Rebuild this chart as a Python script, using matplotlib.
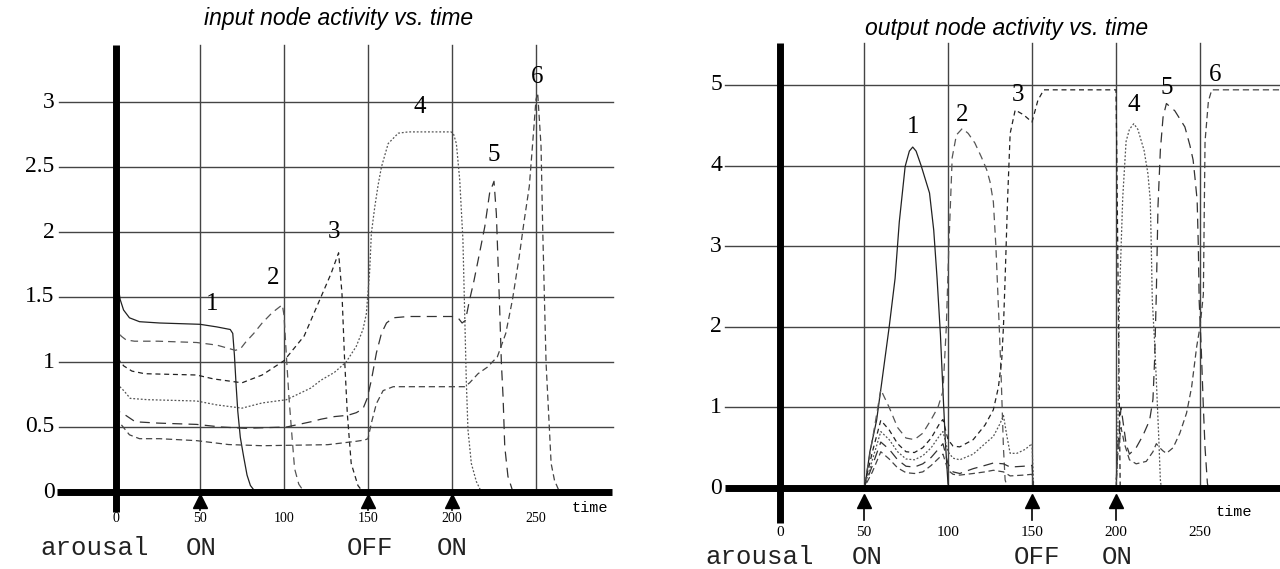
import matplotlib
matplotlib.use('Agg')
import matplotlib.pyplot as plt

# ---- data: input node activity (left panel) ----
in1_t = [0, 1, 2.5, 4.5, 8, 14, 26, 50, 60, 68, 69.5, 70.5, 71.5, 72.5, 74, 76, 78, 80, 83]
in1_v = [1.73, 1.6, 1.48, 1.4, 1.34, 1.31, 1.30, 1.29, 1.27, 1.25, 1.22, 1.05, 0.82, 0.62, 0.42, 0.27, 0.13, 0.05, 0.0]

in2_t = [0, 1, 3, 6, 11, 25, 48, 60, 71, 74, 77, 82, 87, 93, 99, 100, 101.5, 103, 104.5, 106.3, 108.8, 112]
in2_v = [1.3, 1.25, 1.2, 1.17, 1.16, 1.16, 1.15, 1.13, 1.09, 1.1, 1.15, 1.22, 1.30, 1.38, 1.44, 1.36, 1.03, 0.72, 0.47, 0.18, 0.06, 0.0]

in3_t = [0, 1.5, 4.6, 9.5, 17, 48, 58, 75, 87, 100, 112, 122, 128, 132.5, 134.5, 136, 137.7, 140, 144, 147]
in3_v = [1.1, 1.02, 0.97, 0.93, 0.91, 0.90, 0.87, 0.84, 0.9, 1.01, 1.2, 1.5, 1.68, 1.84, 1.53, 1.04, 0.6, 0.22, 0.05, 0.0]

in4_t = [0, 1.5, 4.6, 8.5, 19, 48, 60, 75, 87, 101.5, 116, 122, 130, 137, 143, 147, 149, 151, 152, 154, 156, 158,
         162, 168, 174, 199.5, 201, 202.6, 204.6, 206.5, 207.5, 208.5, 209.5, 211.5, 214.5, 217.5]
in4_v = [0.89, 0.82, 0.78, 0.72, 0.71, 0.70, 0.67, 0.645, 0.685, 0.71, 0.80, 0.86, 0.92, 1.0, 1.12, 1.25, 1.37, 1.7,
         1.99, 2.19, 2.36, 2.50, 2.68, 2.76, 2.77, 2.77, 2.75, 2.68, 2.4, 1.94, 1.4, 0.86, 0.48, 0.22, 0.08, 0.0]

in5_t = [0, 1.5, 4.6, 11.5, 25, 48, 62.5, 77, 101.5, 116, 122, 130, 138, 143, 147, 149.5, 152, 155, 158, 161, 165,
         174, 200, 203.6, 206, 208, 210.5, 213, 215.5, 219.5, 222.4, 225, 226.4, 228.4, 229.4, 230.4, 231.4, 233.3, 236.3]
in5_v = [0.68, 0.62, 0.6, 0.54, 0.53, 0.52, 0.50, 0.49, 0.50, 0.54, 0.56, 0.58, 0.59, 0.61, 0.64, 0.72, 0.86, 1.07,
         1.22, 1.30, 1.34, 1.35, 1.35, 1.34, 1.3, 1.32, 1.48, 1.62, 1.78, 2.04, 2.30, 2.39, 2.14, 1.4, 0.99, 0.73,
         0.35, 0.12, 0.0]

in6_t = [0, 1, 3, 8, 14, 26, 48, 67, 87, 126, 143, 148, 150, 152, 155, 159, 165, 200, 207.5, 210.5, 215.5, 221,
         227, 232, 236, 240, 243, 246, 248, 250, 251, 253, 254, 255, 256, 258, 259, 261, 264]
in6_v = [0.58, 0.55, 0.52, 0.44, 0.41, 0.41, 0.395, 0.365, 0.356, 0.364, 0.39, 0.40, 0.41, 0.53, 0.68, 0.78, 0.81,
         0.81, 0.81, 0.84, 0.91, 0.96, 1.04, 1.22, 1.48, 1.81, 2.09, 2.35, 2.68, 3.02, 3.07, 2.66, 2.02, 1.5, 0.99,
         0.48, 0.22, 0.09, 0.0]

# ---- data: output node activity (right panel) ----
out1_t = [0, 50, 51, 53.5, 57.5, 60.5, 65, 68.5, 71, 74.5, 77, 79, 81, 84, 89, 91.5, 93.5, 95.5, 97, 98.5, 100, 101, 298]
out1_v = [0, 0, 0.08, 0.45, 0.84, 1.3, 2.0, 2.6, 3.3, 3.99, 4.18, 4.23, 4.18, 4.0, 3.66, 3.2, 2.6, 1.9, 1.2, 0.55, 0.05, 0, 0]

out2_t = [0, 50, 55, 60, 65, 70, 75, 80, 85, 90, 94, 97, 99, 100.5, 102.5, 105, 108.5, 112, 116, 120, 123, 125, 127,
          128.5, 129.5, 130.5, 131.7, 133, 134, 135.5, 298]
out2_v = [0, 0, 0.6, 1.22, 1.0, 0.75, 0.62, 0.6, 0.68, 0.85, 1.0, 1.2, 2.0, 3.0, 4.1, 4.38, 4.46, 4.4, 4.28, 4.1, 3.95,
          3.8, 3.55, 3.0, 2.5, 2.0, 1.34, 0.5, 0.1, 0, 0]

out3_t = [0, 50, 55, 60, 65, 70, 75, 80, 85, 90, 95, 97, 100, 103, 107, 115, 122, 127, 130, 132, 133, 134, 135.5, 137,
          140, 145, 150, 153.5, 157, 200, 200.5, 201.5, 202.5, 298]
out3_v = [0, 0, 0.45, 0.84, 0.72, 0.55, 0.45, 0.44, 0.5, 0.62, 0.8, 0.85, 0.6, 0.52, 0.51, 0.6, 0.78, 0.97, 1.25, 1.6,
          2.0, 2.6, 3.6, 4.4, 4.69, 4.63, 4.54, 4.81, 4.94, 4.94, 4.1, 2.0, 0, 0]

out4_t = [0, 50, 55, 60, 65, 70, 75, 80, 85, 90, 95, 97, 100, 103, 107, 115, 122, 127, 131, 133, 135, 137, 141, 146,
          150, 151, 200, 201, 202, 204, 206, 208, 210.6, 213, 216.7, 219, 220.4, 221, 221.6, 223, 224, 225.5, 226.4,
          227, 298]
out4_v = [0, 0, 0.35, 0.70, 0.6, 0.45, 0.36, 0.35, 0.4, 0.5, 0.65, 0.7, 0.45, 0.37, 0.35, 0.42, 0.55, 0.64, 0.8, 0.9,
          0.65, 0.43, 0.43, 0.48, 0.55, 0, 0, 0.5, 2.33, 3.6, 4.3, 4.45, 4.52, 4.45, 4.19, 3.9, 3.57, 3.0, 2.33, 1.8,
          1.34, 0.6, 0.1, 0, 0]

out5_t = [0, 50, 55, 60, 65, 70, 75, 80, 85, 90, 95, 97, 100, 103, 107, 115, 122, 127, 133, 137, 145, 150, 151, 200,
          201, 203, 206, 208, 212, 216, 220, 222, 223, 224, 225, 226.4, 228, 230, 235, 241, 244, 245.9, 247, 248.3,
          249, 249.5, 250.7, 252, 253, 254.4, 255, 298]
out5_v = [0, 0, 0.28, 0.57, 0.48, 0.35, 0.27, 0.26, 0.3, 0.38, 0.5, 0.55, 0.3, 0.2, 0.18, 0.24, 0.28, 0.31, 0.3, 0.26,
          0.27, 0.28, 0, 0, 0.5, 1.0, 0.55, 0.42, 0.5, 0.65, 0.84, 1.1, 1.6, 2.41, 3.5, 4.19, 4.6, 4.77, 4.68, 4.48,
          4.25, 4.07, 3.85, 3.57, 3.0, 2.33, 1.75, 1.0, 0.5, 0.06, 0, 0]

out6_t = [0, 50, 55, 60, 65, 70, 75, 80, 85, 90, 95, 97, 100, 103, 107, 115, 122, 127, 133, 137, 145, 150, 151, 200,
          201, 203, 205, 208, 212, 218, 222, 224, 226, 228, 230, 234, 238, 242, 245, 248, 250, 252, 253, 255, 257, 298]
out6_v = [0, 0, 0.2, 0.45, 0.36, 0.25, 0.19, 0.18, 0.2, 0.28, 0.38, 0.42, 0.22, 0.17, 0.16, 0.18, 0.2, 0.22, 0.2,
          0.15, 0.16, 0.17, 0, 0, 0.4, 0.75, 0.55, 0.35, 0.3, 0.33, 0.45, 0.55, 0.5, 0.46, 0.43, 0.5, 0.68, 0.93, 1.25,
          1.75, 2.0, 2.4, 4.3, 4.8, 4.94, 4.94]

in_curves = [(in1_t, in1_v), (in2_t, in2_v), (in3_t, in3_v), (in4_t, in4_v), (in5_t, in5_v), (in6_t, in6_v)]
out_curves = [(out1_t, out1_v), (out2_t, out2_v), (out3_t, out3_v), (out4_t, out4_v), (out5_t, out5_v), (out6_t, out6_v)]

# curve number labels (time, value)
in_label_pos = [(57, 1.45), (93.5, 1.65), (130, 2.0), (181, 2.96), (224.6, 2.59), (250.4, 3.19)]
out_label_pos = [(79, 4.48), (108.6, 4.63), (141.4, 4.88), (210.7, 4.75), (230, 4.96), (259.2, 5.12)]

time_ticks = [0, 50, 100, 150, 200, 250]
grid_x = [50, 100, 150, 200, 250]
in_yticks = [0, 0.5, 1, 1.5, 2, 2.5, 3]
in_yticklabels = ['0', '0.5', '1', '1.5', '2', '2.5', '3']
out_yticks = [0, 1, 2, 3, 4, 5]
out_yticklabels = ['0', '1', '2', '3', '4', '5']
arousal_t = [50, 150, 200]
arousal_txt = ['ON', 'OFF', 'ON']

styles = [
    dict(color='#222222', ls='-'),
    dict(color='#555555', ls=(0, (6, 4))),
    dict(color='#222222', ls=(0, (4, 3))),
    dict(color='#555555', ls=(0, (1.5, 1.5))),
    dict(color='#333333', ls=(0, (8, 5))),
    dict(color='#444444', ls=(0, (5, 3))),
]

serif = 'Liberation Serif'
mono = 'Liberation Mono'

fig = plt.figure(figsize=(12.8, 5.69), dpi=100)

# left: x px 60..620 ; y px 40..515
axL = fig.add_axes([60 / 1280, (569 - 515) / 569, 560 / 1280, 475 / 569])
axL.set_xlim((60 - 116) / 1.68, (620 - 116) / 1.68)
axL.set_ylim((492 - 515) / 130, (492 - 40) / 130)
# right: x px 725..1280 ; y px 40..525
axR = fig.add_axes([725 / 1280, (569 - 525) / 569, 555 / 1280, 485 / 569])
axR.set_xlim((725 - 780) / 1.68, (1280 - 780) / 1.68)
axR.set_ylim((488 - 525) / 80.6, (488 - 40) / 80.6)

panels = [
    dict(ax=axL, curves=in_curves, labels=in_label_pos, yt=in_yticks, ytl=in_yticklabels,
         ytop=3.44, ybot=-0.15, xl=-35, xr=295, gl=-34, gr=296, tick_y=-0.2, ylab_x=-36.5,
         time_pos=(282, -0.12), arousal_y=-0.43, arousal_x=-45, txt_x=[51, 151, 200],
         head_y=-0.07, stem_y=-0.14, ytick_fs=17, xtick_fs=10),
    dict(ax=axR, curves=out_curves, labels=out_label_pos, yt=out_yticks, ytl=out_yticklabels,
         ytop=5.52, ybot=-0.43, xl=-32.7, xr=298, gl=-32.7, gr=298, tick_y=-0.55, ylab_x=-34.5,
         time_pos=(270, -0.3), arousal_y=-0.86, arousal_x=-44.6, txt_x=[52, 153, 200.6],
         head_y=-0.16, stem_y=-0.4, ytick_fs=17, xtick_fs=11),
]

for p in panels:
    ax = p['ax']
    ax.axis('off')
    # grid
    for yv in p['yt'][1:]:
        ax.plot([p['gl'], p['gr']], [yv, yv], color='#444444', lw=1.0, clip_on=False, zorder=1)
    for xv in grid_x:
        ax.plot([xv, xv], [0, p['ytop']], color='#444444', lw=1.0, clip_on=False, zorder=1)
    # curves
    for (t, v), st in zip(p['curves'], styles):
        ax.plot(t, v, color=st['color'], linestyle=st['ls'], lw=0.9, clip_on=False, zorder=2)
    # thick axes
    ax.plot([0, 0], [p['ybot'], p['ytop']], color='black', lw=5, solid_capstyle='butt', clip_on=False, zorder=3)
    ax.plot([p['xl'], p['xr']], [0, 0], color='black', lw=5, solid_capstyle='butt', clip_on=False, zorder=3)
    # y tick labels
    for yv, lab in zip(p['yt'], p['ytl']):
        ax.text(p['ylab_x'], yv, lab, ha='right', va='center', fontsize=p['ytick_fs'], family=serif, clip_on=False)
    # x tick labels
    for xv in time_ticks:
        ax.text(xv, p['tick_y'], str(xv), ha='center', va='center', fontsize=p['xtick_fs'], family=serif, clip_on=False)
    ax.text(p['time_pos'][0], p['time_pos'][1], 'time', ha='center', va='center', fontsize=11, family=mono, clip_on=False)
    # curve numbers
    for i, (lt, lv) in enumerate(p['labels']):
        ax.text(lt, lv, str(i + 1), ha='center', va='center', fontsize=18, family=serif, clip_on=False, zorder=4)
    # arousal arrows
    for at in arousal_t:
        ax.plot([at, at], [p['stem_y'], p['head_y']], color='black', lw=1.2, clip_on=False, zorder=4)
        ax.plot([at], [p['head_y']], marker='^', ms=10.5, color='black', clip_on=False, zorder=4)
    ax.text(p['arousal_x'], p['arousal_y'], 'arousal', ha='left', va='center', fontsize=18.5, family=mono,
            color='#222222', clip_on=False)
    for at, txt in zip(p['txt_x'], arousal_txt):
        ax.text(at, p['arousal_y'], txt, ha='center', va='center', fontsize=18.5, family=mono,
                color='#222222', clip_on=False)

fig.text(339 / 1280, 1 - 19 / 569, 'input node activity vs. time', ha='center', va='center',
         fontsize=16.5, style='italic', family='Liberation Sans')
fig.text(1007 / 1280, 1 - 28 / 569, 'output node activity vs. time', ha='center', va='center',
         fontsize=16.5, style='italic', family='Liberation Sans')

fig.savefig('out.png', dpi=100)
